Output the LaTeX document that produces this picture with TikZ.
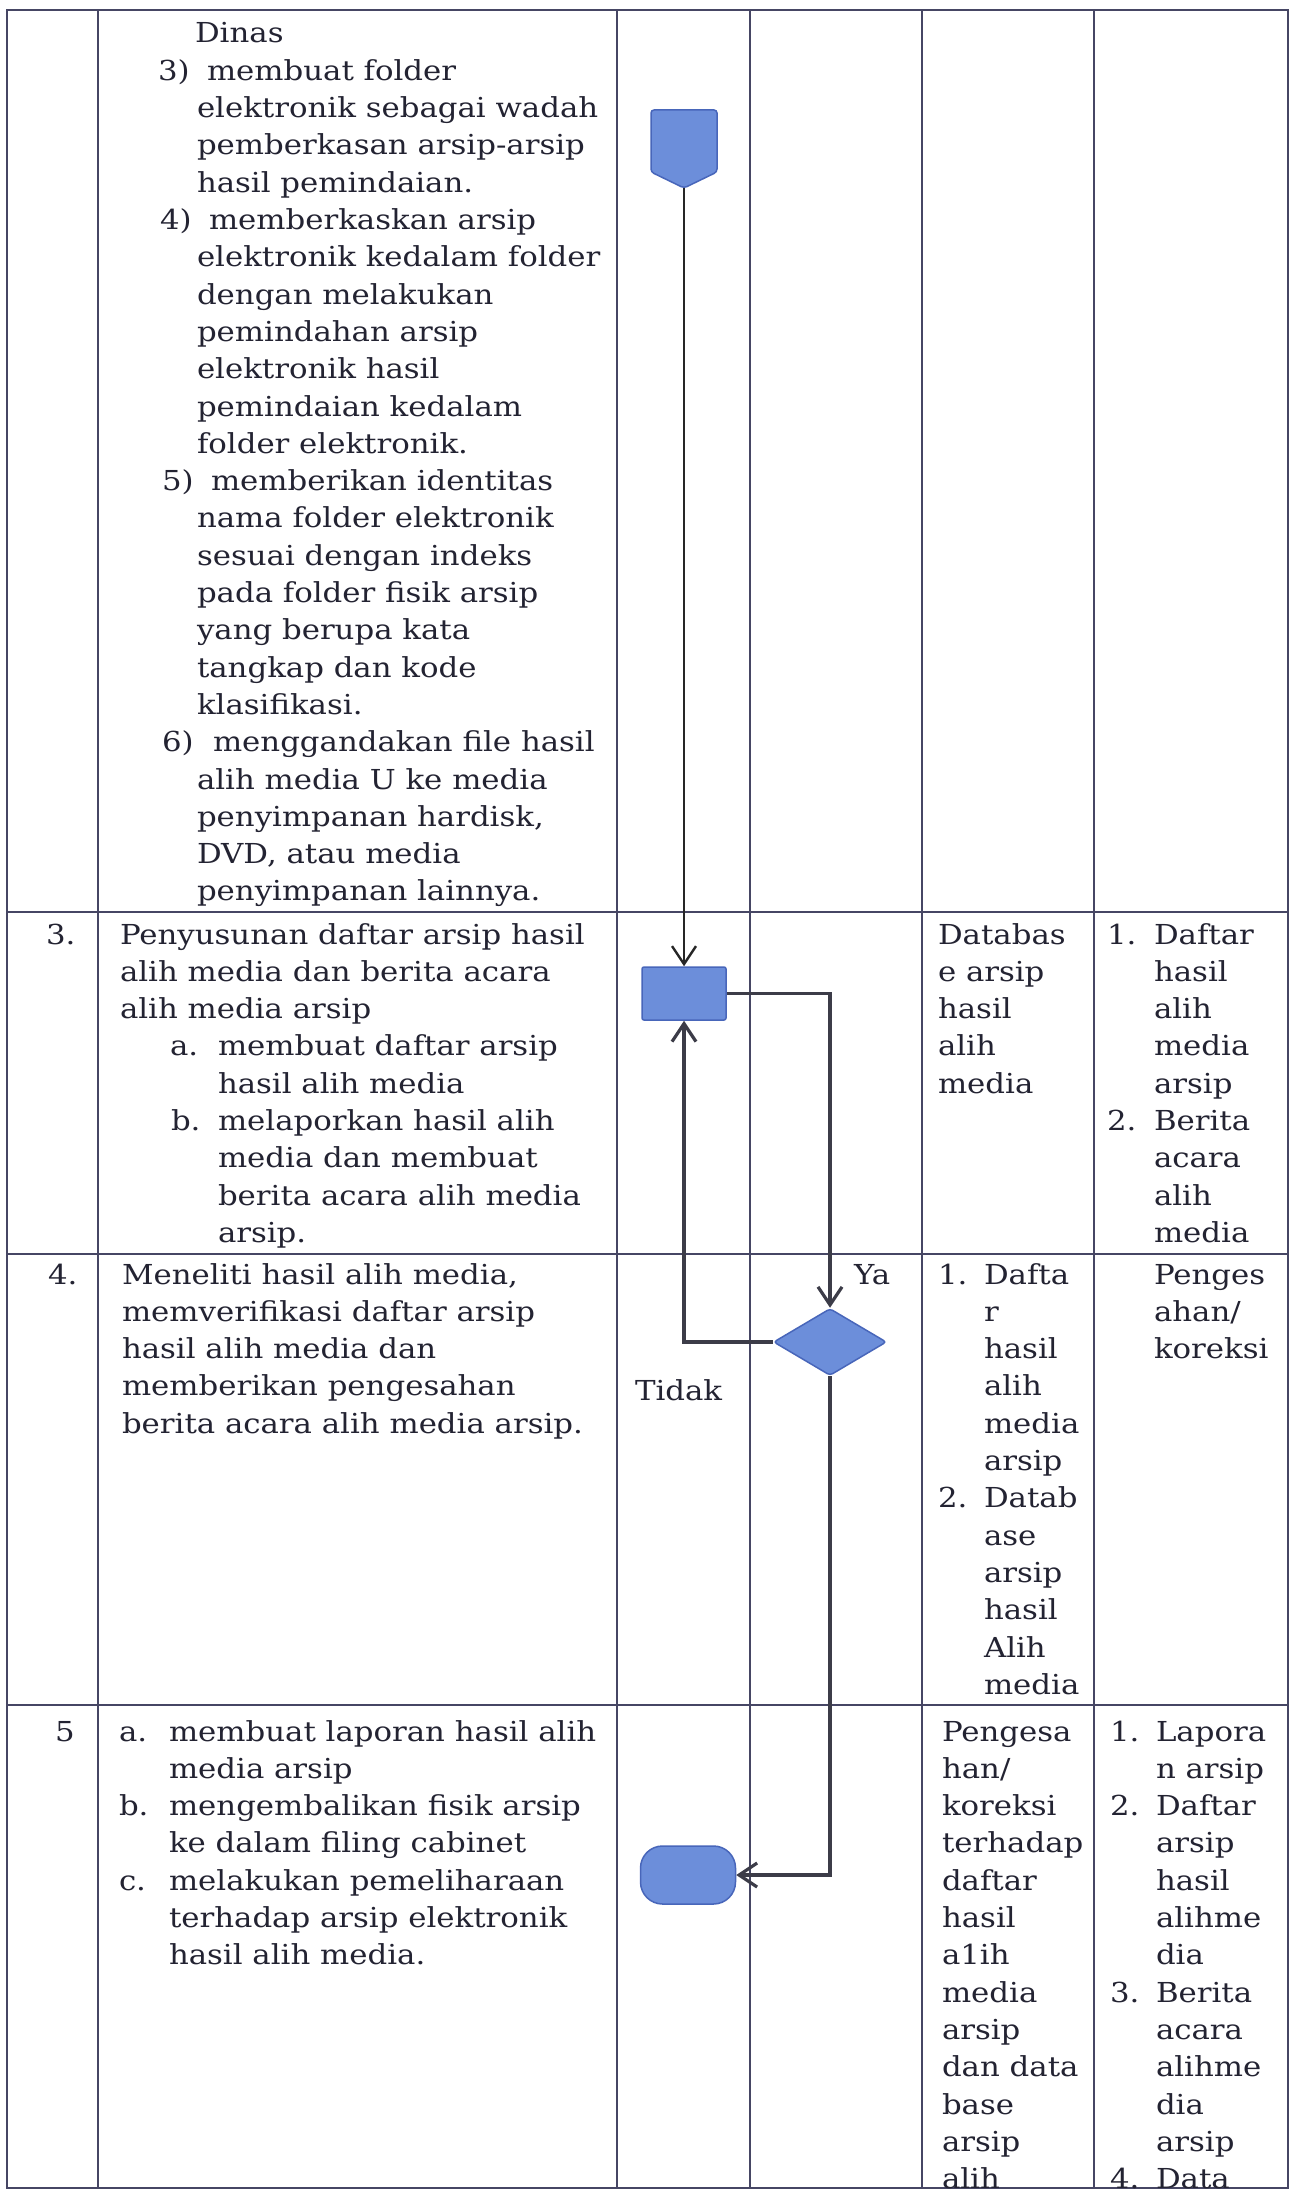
\documentclass[tikz,border=0pt]{standalone}
\usepackage{fontspec}
\setmainfont{DejaVu Serif}[FakeStretch=1.12]
\usetikzlibrary{arrows.meta,shapes.geometric,calc}
\definecolor{ink}{RGB}{35,35,50}
\definecolor{gridc}{RGB}{70,70,100}
\definecolor{shapefill}{RGB}{108,142,218}
\definecolor{shapeline}{RGB}{72,102,186}
\definecolor{conncol}{RGB}{60,60,72}
\newcommand\blk[4]{\foreach \t [count=\i from 0] in {#4}{\node[txt] (#1\i) at (#2,{#3+\i*37.3}) {\t};}}
\begin{document}
\begin{tikzpicture}[x=1pt,y=-1pt,
 txt/.style={anchor=base west,inner sep=0pt,outer sep=0pt,text=ink,font=\fontsize{27.5}{33}\selectfont},
 gridline/.style={draw=gridc,line width=1.3pt},
 flow/.style={fill=shapefill,draw=shapeline,line width=1.5pt},
 conn/.style={draw=conncol,line width=3.2pt,-{Straight Barb[length=18pt,width=24pt]}}]
\fill[white] (0,0) rectangle (1292,2202);
\useasboundingbox (0,0) rectangle (1292,2202);
% grid
\draw[gridline] (7,10) rectangle (1288,2188);
\foreach \x in {98,617,750,922,1094} \draw[gridline] (\x,10) -- (\x,2188);
\foreach \y in {912,1254,1705} \draw[gridline] (7,\y) -- (1288,\y);
% row 0 (continuation)
\blk{ra}{195}{43}{Dinas}
\node[txt] (n3) at (158,80.3) {3)};
\blk{rb}{207}{80.3}{membuat folder}
\blk{rc}{197}{117.6}{elektronik sebagai wadah, pemberkasan arsip-arsip, hasil pemindaian.}
\node[txt] (n4) at (160,229.5) {4)};
\blk{rd}{209}{229.5}{memberkaskan arsip}
\blk{re}{197}{266.8}{elektronik kedalam folder, dengan melakukan, pemindahan arsip, elektronik hasil, pemindaian kedalam, folder elektronik.}
\node[txt] (n5) at (162,490.6) {5)};
\blk{rf}{211}{490.6}{memberikan identitas}
\blk{rg}{197}{527.9}{nama folder elektronik, sesuai dengan indeks, pada folder fisik arsip, yang berupa kata, tangkap dan kode, klasifikasi.}
\node[txt] (n6) at (162,751.7) {6)};
\blk{rh}{213}{751.7}{menggandakan file hasil}
\blk{ri}{197}{789}{alih media U ke media, {penyimpanan hardisk,}, {DVD, atau media}, penyimpanan lainnya.}
% row 3
\node[txt] (c3) at (46,944) {3.};
\blk{sa}{120}{944}{Penyusunan daftar arsip hasil, alih media dan berita acara, alih media arsip}
\node[txt] (s3a) at (170,1055.9) {a.};
\blk{sb}{218}{1055.9}{membuat daftar arsip, hasil alih media}
\node[txt] (s3b) at (171,1130.5) {b.};
\blk{sc}{218}{1130.5}{melaporkan hasil alih, media dan membuat, berita acara alih media, arsip.}
\blk{sd}{938}{944}{Databas, e arsip, hasil, alih, media}
\node[txt] (s51) at (1107,944) {1.};
\blk{se}{1154}{944}{Daftar, hasil, alih, media, arsip}
\node[txt] (s52) at (1107,1130.5) {2.};
\blk{sf}{1154}{1130.5}{Berita, acara, alih, media}
% row 4
\node[txt] (c4) at (48,1284) {4.};
\blk{ta}{122}{1284}{{Meneliti hasil alih media,}, memverifikasi daftar arsip, hasil alih media dan, memberikan pengesahan, berita acara alih media arsip.}
\node[txt] (ya) at (854,1284) {Ya};
\node[txt] (tidak) at (635,1400) {Tidak};
\node[txt] (t41) at (938,1284) {1.};
\blk{tb}{984}{1284}{Dafta, r, hasil, alih, media, arsip}
\node[txt] (t42) at (938,1507.8) {2.};
\blk{tc}{984}{1507.8}{Datab, ase, arsip, hasil, Alih, media}
\blk{td}{1154}{1284}{Penges, ahan/, koreksi}
% row 5
\node[txt] (c5) at (55,1741) {5};
\node[txt] (u5a) at (119,1741) {a.};
\blk{ua}{169}{1741}{membuat laporan hasil alih, media arsip}
\node[txt] (u5b) at (119,1815.6) {b.};
\blk{ub}{169}{1815.6}{mengembalikan fisik arsip, ke dalam filing cabinet}
\node[txt] (u5c) at (119,1890.2) {c.};
\blk{uc}{169}{1890.2}{melakukan pemeliharaan, terhadap arsip elektronik, hasil alih media.}
\blk{ud}{942}{1741}{Pengesa, han/, koreksi, terhadap, daftar, hasil, a1ih, media, arsip, dan data, base, arsip, alih}
\node[txt] (u51) at (1110,1741) {1.};
\blk{ue}{1156}{1741}{Lapora, n arsip}
\node[txt] (u52) at (1110,1815.6) {2.};
\blk{uf}{1156}{1815.6}{Daftar, arsip, hasil, alihme, dia}
\node[txt] (u53) at (1110,2002.1) {3.};
\blk{ug}{1156}{2002.1}{Berita, acara, alihme, dia, arsip}
\node[txt] (u54) at (1110,2188.6) {4.};
\blk{uh}{1156}{2188.6}{Data}
% flow shapes
\draw[flow,rounded corners=3pt] (651,110) -- (717,110) -- (717,172) -- (684,188) -- (651,172) -- cycle;
\coordinate (off) at (684,188);
\node[flow,rectangle,rounded corners=2pt,minimum width=84pt,minimum height=53pt,inner sep=0pt] (proc) at (684,993.5) {};
\node[flow,diamond,rounded corners=3pt,minimum width=113pt,minimum height=67pt,inner sep=0pt] (dec) at (830,1342) {};
\node[flow,rectangle,rounded corners=22pt,minimum width=95pt,minimum height=58pt,inner sep=0pt] (term) at (688,1875) {};
% connectors
\draw[conn,line width=2.4pt,draw=black!85] (off) -- (proc.north);
\draw[conn] (proc.east) -| (dec.north);
\draw[conn] (dec.west) -| (proc.south);
\draw[conn] (dec.south) |- (term.east);
\end{tikzpicture}
\end{document}
